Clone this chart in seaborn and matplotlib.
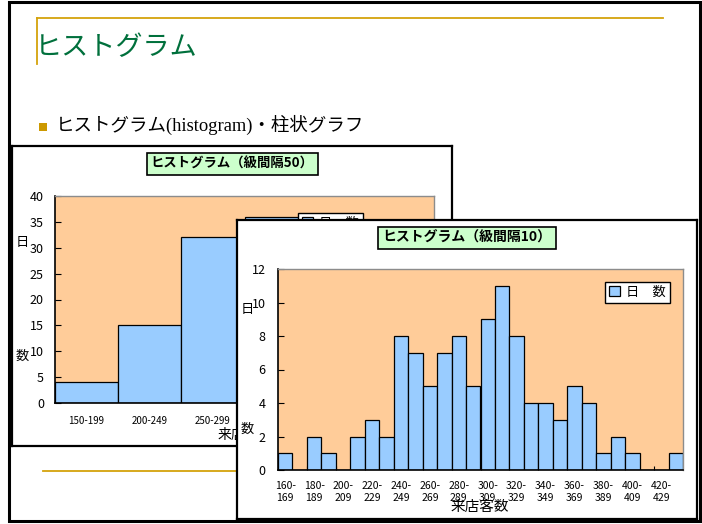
import matplotlib
matplotlib.use("Agg")
import matplotlib.pyplot as plt
from matplotlib.patches import Rectangle
import seaborn as sns

# ── data ────────────────────────────────────────────────────────────────
bins50 = ["150-199", "200-249", "250-299", "300-349", "350-399", "400-449"]
days50 = [4, 15, 32, 36, 15, 2]

bins10 = ["160-169", "170-179", "180-189", "190-199", "200-209", "210-219",
          "220-229", "230-239", "240-249", "250-259", "260-269", "270-279",
          "280-289", "290-299", "300-309", "310-319", "320-329", "330-339",
          "340-349", "350-359", "360-369", "370-379", "380-389", "390-399",
          "400-409", "410-419", "420-429", "430-439"]
days10 = [1, 0, 2, 1, 0, 2, 3, 2, 8, 7, 5, 7, 8, 5, 9, 11, 8, 4, 4, 3,
          5, 4, 1, 2, 1, 0, 0, 1]

TITLE = "ヒストグラム"
BULLET = "ヒストグラム(histogram)・柱状グラフ"
TITLE50 = "ヒストグラム（級間隔50）"
TITLE10 = "ヒストグラム（級間隔10）"
XLABEL = "来店客数"
LEGEND = "日　数"

GOLD = "#D4A20C"
GREEN = "#00703C"
PEACH = "#FFCC99"
BLUE = "#99CCFF"

plt.rcParams["font.family"] = ["Noto Sans CJK JP", "DejaVu Sans"]

W, H = 702, 524


def rect(x0, y0, x1, y1):
    return [x0 / W, 1 - y1 / H, (x1 - x0) / W, (y1 - y0) / H]


fig = plt.figure(figsize=(W / 100, H / 100), dpi=100)

# ── slide background ───────────────────────────────────────────────────
bg = fig.add_axes([0, 0, 1, 1])
bg.set_xlim(0, W)
bg.set_ylim(H, 0)
bg.axis("off")
bg.add_patch(Rectangle((9, 1.5), 691, 519.5, fill=False, ec="black", lw=2.2))
bg.plot([37, 663], [18, 18], color=GOLD, lw=1.3)
bg.plot([37, 37], [18, 64], color=GOLD, lw=1.3)
bg.plot([43, 660], [470.5, 470.5], color=GOLD, lw=1.3)
bg.text(35, 48, TITLE, color=GREEN, fontsize=19.5, ha="left", va="center")
bg.add_patch(Rectangle((39, 123), 8, 8, color="#CC9900", lw=0))
bg.text(56, 125, BULLET, fontsize=13.3, ha="left", va="center",
        family=["Liberation Serif", "Noto Sans CJK JP"])


def chart_frame(box, title, title_xy, fs):
    x0, y0, x1, y1 = box
    ax = fig.add_axes(rect(*box))
    ax.set_xlim(x0, x1)
    ax.set_ylim(y1, y0)
    ax.set_xticks([])
    ax.set_yticks([])
    ax.set_facecolor("white")
    for s in ax.spines.values():
        s.set_color("black")
        s.set_linewidth(1.6)
    ax.text(*title_xy, title, ha="center", va="center", fontsize=fs,
            fontweight="bold",
            bbox=dict(boxstyle="square,pad=0.3", fc="#CCFFCC", ec="black", lw=1.2))
    return ax


def style_plot(ax, ytop, ystep, ypad):
    ax.set_facecolor(PEACH)
    ax.set_axisbelow(True)
    for side in ("top", "right"):
        ax.spines[side].set_color("#8C8C8C")
        ax.spines[side].set_linewidth(1.0)
    for side in ("left", "bottom"):
        ax.spines[side].set_color("black")
        ax.spines[side].set_linewidth(1.2)
    ax.set_ylim(0, ytop)
    ax.set_yticks(range(0, ytop + 1, ystep))
    ax.tick_params(axis="y", direction="in", length=4, width=0.8,
                   labelsize=9, pad=ypad)
    ax.set_xlabel("")
    ax.set_ylabel("")


def add_legend(ax, anchor):
    ax.legend(loc="upper right", bbox_to_anchor=anchor, frameon=True,
              fancybox=False, edgecolor="black", framealpha=1,
              handlelength=0.8, handleheight=0.8, handletextpad=0.5,
              borderpad=0.3, borderaxespad=0, fontsize=9.5)


# ── chart 1: class width 50 ────────────────────────────────────────────
f1 = chart_frame((12, 146, 452, 446), TITLE50, (232, 164), 9.6)
f1.text(22, 242, "日", ha="center", va="center", fontsize=9.5)
f1.text(22, 356, "数", ha="center", va="center", fontsize=9.5)
f1.text(245, 435, XLABEL, ha="center", va="center", fontsize=10)

ax1 = fig.add_axes(rect(55, 196, 434, 403))
sns.barplot(x=bins50, y=days50, color=BLUE, saturation=1, width=1.0,
            edgecolor="black", linewidth=0.9, label=LEGEND, ax=ax1)
style_plot(ax1, 40, 5, 8)
ax1.set_xlim(-0.5, len(bins50) - 0.5)
ax1.tick_params(axis="x", length=0, labelsize=7, pad=9)
add_legend(ax1, (0.813, 0.918))

# ── chart 2: class width 10 ────────────────────────────────────────────
f2 = chart_frame((237, 220, 697, 519), TITLE10, (467, 238), 10)
f2.text(247, 310, "日", ha="center", va="center", fontsize=9.5)
f2.text(247, 429, "数", ha="center", va="center", fontsize=9.5)
f2.text(480, 507, XLABEL, ha="center", va="center", fontsize=10.5)

ax2 = fig.add_axes(rect(278, 269, 683, 470))
sns.barplot(x=bins10, y=days10, color=BLUE, saturation=1, width=1.0,
            edgecolor="black", linewidth=0.9, label=LEGEND, ax=ax2)
style_plot(ax2, 12, 2, 9)
ax2.set_xlim(-0.5, len(bins10) - 0.5)
shown = list(range(0, len(bins10), 2))
ax2.set_xticks(shown)
ax2.set_xticklabels([bins10[i].replace("-", "-\n") for i in shown])
ax2.set_xticks([i - 0.5 for i in shown], minor=True)
ax2.tick_params(axis="x", which="major", length=0, labelsize=7.5, pad=8)
ax2.tick_params(axis="x", which="minor", direction="in", length=3, width=0.8)
add_legend(ax2, (0.968, 0.935))

fig.savefig("out.png", dpi=100)
